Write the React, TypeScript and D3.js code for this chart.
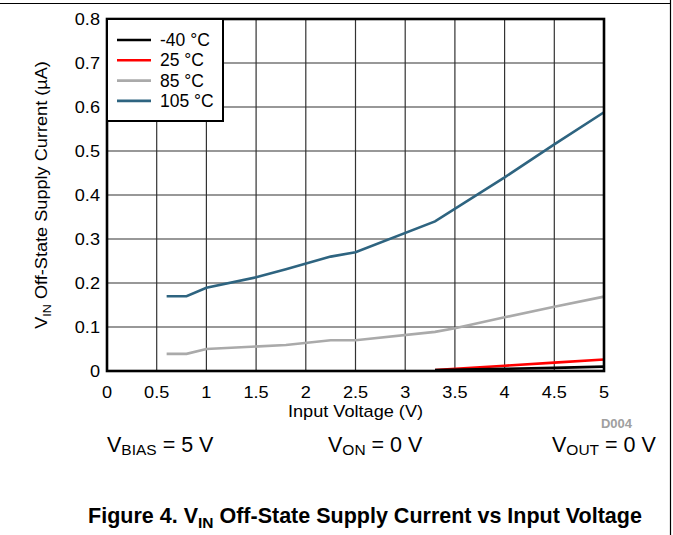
import React, { useEffect, useRef } from "react";
import * as d3 from "d3";

const xTicks = [0, 0.5, 1, 1.5, 2, 2.5, 3, 3.5, 4, 4.5, 5];
const yTicks = [0, 0.1, 0.2, 0.3, 0.4, 0.5, 0.6, 0.7, 0.8];

const vMinus40 = [3.3, 4, 4.5, 5];
const iMinus40 = [0.002, 0.005, 0.007, 0.01];

const v25 = [3.3, 4, 4.5, 5];
const i25 = [0.002, 0.012, 0.019, 0.026];

const v85 = [0.6, 0.8, 1.0, 1.8, 2.25, 2.5, 3.3, 3.5, 4, 4.5, 5];
const i85 = [0.039, 0.039, 0.05, 0.059, 0.07, 0.07, 0.089, 0.097, 0.122, 0.146, 0.169];

const v105 = [0.6, 0.8, 1.0, 1.5, 1.8, 2.25, 2.5, 3.3, 4, 4.5, 5];
const i105 = [0.17, 0.17, 0.189, 0.213, 0.231, 0.26, 0.27, 0.34, 0.44, 0.515, 0.588];

const seriesNames = ["-40 °C", "25 °C", "85 °C", "105 °C"];
const seriesColors = ["#000000", "#ff0000", "#aaaaaa", "#2e6480"];

const FONT = "'Liberation Sans', Arial, sans-serif";
const SX = 1.1;

export default function App() {
  const ref = useRef<SVGSVGElement>(null);

  useEffect(() => {
    const svg = d3.select(ref.current);
    svg.selectAll("*").remove();

    const L = 107, R = 604, T = 19, B = 371;
    const x = d3.scaleLinear().domain([0, 5]).range([L, R]);
    const y = d3.scaleLinear().domain([0, 0.8]).range([B, T]);

    const wideText = (px: number, py: number, anchor: string, txt: string, size = 16.5) =>
      svg.append("text")
        .attr("transform", `translate(${px},${py}) scale(${SX},1)`)
        .attr("text-anchor", anchor).attr("font-family", FONT).attr("font-size", size)
        .attr("fill", "#000").text(txt);

    // page frame
    svg.append("line").attr("x1", 0).attr("x2", 671).attr("y1", 3.5).attr("y2", 3.5)
      .attr("stroke", "#000").attr("stroke-width", 1.2);
    svg.append("line").attr("x1", 670.5).attr("x2", 670.5).attr("y1", 0).attr("y2", 535)
      .attr("stroke", "#000").attr("stroke-width", 1.2);

    // grid
    const g = svg.append("g");
    g.selectAll(".gx").data(xTicks.slice(1, -1)).enter().append("line")
      .attr("x1", (d) => x(d)).attr("x2", (d) => x(d)).attr("y1", T).attr("y2", B)
      .attr("stroke", "#333").attr("stroke-width", 1.2);
    g.selectAll(".gy").data(yTicks.slice(1, -1)).enter().append("line")
      .attr("y1", (d) => y(d)).attr("y2", (d) => y(d)).attr("x1", L).attr("x2", R)
      .attr("stroke", "#333").attr("stroke-width", 1.2);

    // series
    const series = [
      [vMinus40, iMinus40],
      [v25, i25],
      [v85, i85],
      [v105, i105],
    ];
    const line = d3.line<[number, number]>().x((d) => x(d[0])).y((d) => y(d[1]));
    [3, 2, 1, 0].forEach((k) => {
      const [vs, is] = series[k];
      const pts = vs.map((v, i) => [v, is[i]] as [number, number]);
      svg.append("path").attr("d", line(pts) as string).attr("fill", "none")
        .attr("stroke", seriesColors[k]).attr("stroke-width", 2.6);
    });

    // frame
    svg.append("rect").attr("x", L).attr("y", T).attr("width", R - L).attr("height", B - T)
      .attr("fill", "none").attr("stroke", "#000").attr("stroke-width", 2.6);

    // legend
    const lg = svg.append("g");
    lg.append("rect").attr("x", L).attr("y", T).attr("width", 116).attr("height", 102)
      .attr("fill", "#fff").attr("stroke", "#000").attr("stroke-width", 2);
    seriesNames.forEach((name, i) => {
      const yy = 40 + i * 20.3;
      lg.append("line").attr("x1", 117).attr("x2", 151).attr("y1", yy).attr("y2", yy)
        .attr("stroke", seriesColors[i]).attr("stroke-width", 2.6);
      lg.append("text").attr("x", 160).attr("y", yy + 6).text(name)
        .attr("font-family", FONT).attr("font-size", 17.5).attr("fill", "#000");
    });

    // ticks
    xTicks.forEach((t) => wideText(x(t), 397.5, "middle", String(t)));
    yTicks.forEach((t) => wideText(100, y(t) + 6, "end", String(t)));

    // axis titles
    wideText((L + R) / 2, 417, "middle", "Input Voltage (V)", 16.5);

    const yt = svg.append("text")
      .attr("transform", `translate(47,${(T + B) / 2}) rotate(-90) scale(${SX},1)`)
      .attr("text-anchor", "middle").attr("font-family", FONT).attr("font-size", 16.5);
    yt.append("tspan").text("V");
    yt.append("tspan").attr("font-size", 11.5).attr("dy", 4).text("IN");
    yt.append("tspan").attr("dy", -4).text(" Off-State Supply Current (µA)");

    // D004
    svg.append("text").attr("x", 632).attr("y", 427.5).attr("text-anchor", "end")
      .attr("font-family", FONT).attr("font-size", 13).attr("font-weight", "bold")
      .attr("fill", "#a0a0a0").text("D004");

    // conditions
    const cond = (xx: number, sub: string, rest: string) => {
      const t = svg.append("text").attr("x", xx).attr("y", 452)
        .attr("font-family", FONT).attr("font-size", 21.5).attr("fill", "#000");
      t.append("tspan").text("V");
      t.append("tspan").attr("font-size", 15.5).attr("dy", 3).text(sub);
      t.append("tspan").attr("dy", -3).text(rest);
    };
    cond(107, "BIAS", " = 5 V");
    cond(328, "ON", " = 0 V");
    cond(552, "OUT", " = 0 V");

    // title
    const tt = svg.append("text").attr("x", 365).attr("y", 523).attr("text-anchor", "middle")
      .attr("font-family", FONT).attr("font-size", 21.5).attr("font-weight", "bold");
    tt.append("tspan").text("Figure 4. V");
    tt.append("tspan").attr("font-size", 15.5).attr("dy", 5).text("IN");
    tt.append("tspan").attr("dy", -5).text(" Off-State Supply Current vs Input Voltage");
  }, []);

  return (
    <svg ref={ref} width={673} height={535}
      style={{ position: "absolute", left: 0, top: 0, background: "#fff" }} />
  );
}
